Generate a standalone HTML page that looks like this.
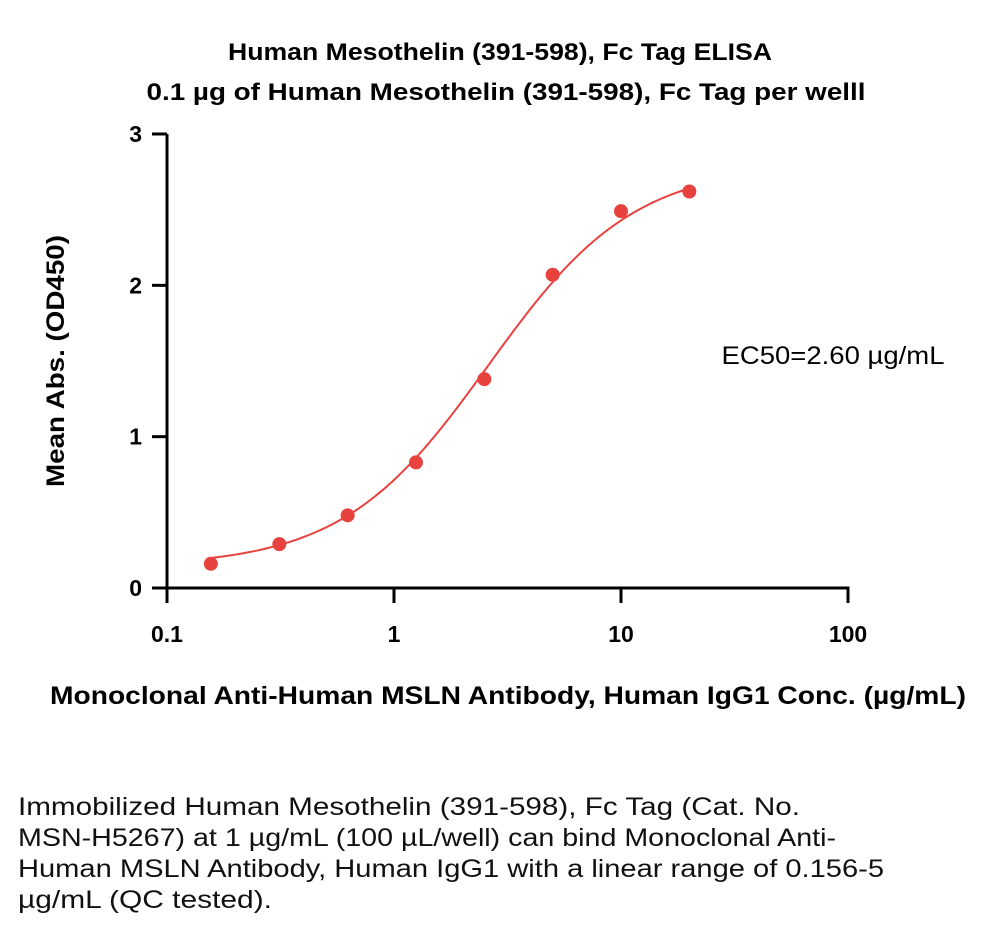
<!DOCTYPE html>
<html><head><meta charset="utf-8"><style>
body{margin:0;background:#fff;width:1000px;height:929px;overflow:hidden;font-family:"Liberation Sans",sans-serif}
svg text{font-family:"Liberation Sans",sans-serif}
</style></head><body>
<svg id="chart" width="1000" height="929" style="position:absolute;left:0;top:0">
<text x="500" y="60" text-anchor="middle" font-size="24" font-weight="bold" textLength="544" lengthAdjust="spacingAndGlyphs">Human Mesothelin (391-598), Fc Tag ELISA</text>
<text x="506" y="100" text-anchor="middle" font-size="24" font-weight="bold" textLength="719" lengthAdjust="spacingAndGlyphs">0.1 µg of Human Mesothelin (391-598), Fc Tag per welll</text>
<g id="axes"></g>
<g id="marks"></g>
<text x="833" y="364" text-anchor="middle" font-size="25" textLength="223" lengthAdjust="spacingAndGlyphs">EC50=2.60 µg/mL</text>
<text x="508" y="704" text-anchor="middle" font-size="25" font-weight="bold" textLength="916" lengthAdjust="spacingAndGlyphs">Monoclonal Anti-Human MSLN Antibody, Human IgG1 Conc. (µg/mL)</text>
<text transform="translate(64,361) rotate(-90)" text-anchor="middle" font-size="25" font-weight="bold" textLength="252" lengthAdjust="spacingAndGlyphs">Mean Abs. (OD450)</text>
<g font-size="25" fill="#111">
<text x="18" y="815" textLength="782" lengthAdjust="spacingAndGlyphs">Immobilized Human Mesothelin (391-598), Fc Tag (Cat. No.</text>
<text x="18" y="846" textLength="818" lengthAdjust="spacingAndGlyphs">MSN-H5267) at 1 µg/mL (100 µL/well) can bind Monoclonal Anti-</text>
<text x="18" y="877" textLength="866" lengthAdjust="spacingAndGlyphs">Human MSLN Antibody, Human IgG1 with a linear range of 0.156-5</text>
<text x="18" y="908" textLength="254" lengthAdjust="spacingAndGlyphs">µg/mL (QC tested).</text>
</g>
</svg>
<script>
const concentrations=[0.156,0.3125,0.625,1.25,2.5,5,10,20];
const absorbances=[0.16,0.29,0.48,0.83,1.38,2.07,2.49,2.62];
const xTicks=[0.1,1,10,100];
const xTickLabels=["0.1","1","10","100"];
const yTicks=[0,1,2,3];
const yTickLabels=["0","1","2","3"];
const fitBottom=0.14, fitTop=2.80, fitEC50=2.6, fitHill=1.35;
const NS="http://www.w3.org/2000/svg";
const X0=167,X1=848,Y0=588,Y1=134;
const xs=v=>X0+(Math.log10(v)+1)/3*(X1-X0);
const ys=v=>Y0-v/3*(Y0-Y1);
function mk(tag,attrs,parent){const e=document.createElementNS(NS,tag);for(const k in attrs)e.setAttribute(k,attrs[k]);parent.appendChild(e);return e;}
const ax=document.getElementById('axes'),mg=document.getElementById('marks');
let l=mk('line',{x1:X0-1.5,y1:Y0,x2:X1+1.5,y2:Y0,stroke:'#000','stroke-width':3},ax);


l=mk('line',{x1:X0,y1:Y0+1.5,x2:X0,y2:Y1,stroke:'#000','stroke-width':3},ax);


xTicks.forEach((v,i)=>{const x=xs(v);
 const t=mk('line',{x1:x,y1:Y0,x2:x,y2:Y0+15,stroke:'#000','stroke-width':3},ax);
 
 
 const tx=mk('text',{x:x,y:Y0+54,'text-anchor':'middle','font-size':23,'font-weight':'bold'},ax);tx.textContent=xTickLabels[i];
 
 
});
yTicks.forEach((v,i)=>{const y=ys(v);
 const t=mk('line',{x1:X0-15,y1:y,x2:X0,y2:y,stroke:'#000','stroke-width':3},ax);
 
 
 const tx=mk('text',{x:X0-25,y:y+8,'text-anchor':'end','font-size':23,'font-weight':'bold'},ax);tx.textContent=yTickLabels[i];
 
 
});
let d='';
const lo=Math.log10(concentrations[0]),hi=Math.log10(concentrations[concentrations.length-1]);
for(let k=0;k<=200;k++){const c=Math.pow(10,lo+(hi-lo)*k/200);
 const r=Math.pow(c/fitEC50,fitHill);const v=fitBottom+(fitTop-fitBottom)*r/(1+r);
 d+=(k?'L':'M')+xs(c).toFixed(1)+' '+ys(v).toFixed(1);}
const p=mk('path',{d:d,fill:'none',stroke:'#e8423f','stroke-width':2},mg);


concentrations.forEach((c,i)=>{const pt=mk('circle',{cx:xs(c),cy:ys(absorbances[i]),r:7,fill:'#e8423f'},mg);
 
 });
</script>
</body></html>
